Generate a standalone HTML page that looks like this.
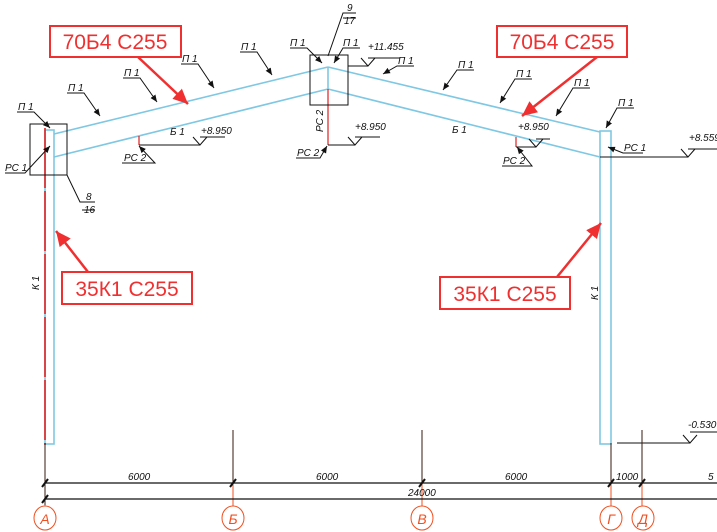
<!DOCTYPE html>
<html><head><meta charset="utf-8"><style>
html,body{margin:0;padding:0;background:#fff;width:717px;height:532px;overflow:hidden}
svg{display:block}
.t{font-family:"Liberation Sans",sans-serif;font-style:italic;font-size:10px;fill:#111}
.r{font-family:"Liberation Sans",sans-serif;font-size:21px;fill:#f03030}
.ax{font-family:"Liberation Sans",sans-serif;font-style:italic;font-size:14px;fill:#f05020}
</style></head><body>
<svg width="717" height="532" viewBox="0 0 717 532" xmlns="http://www.w3.org/2000/svg">
<defs>
<marker id="ah" markerWidth="8" markerHeight="8" refX="7" refY="4" orient="auto" markerUnits="userSpaceOnUse"><path d="M0,1 L7,4 L0,7 z" fill="#111"/></marker>
<marker id="rh" markerWidth="16" markerHeight="14" refX="15" refY="7" orient="auto" markerUnits="userSpaceOnUse"><path d="M0,0 L15,7 L0,14 z" fill="#f03030"/></marker>
</defs>
<g stroke="#7ec8e3" stroke-width="1.6" fill="none">
<!-- left column -->
<rect x="45" y="130" width="9" height="314"/>
<!-- rafters -->
<line x1="54" y1="134" x2="328" y2="67"/>
<line x1="54" y1="157" x2="328" y2="89"/>
<line x1="328" y1="67" x2="600" y2="132"/>
<line x1="328" y1="89" x2="600" y2="157"/>
<line x1="328" y1="67" x2="328" y2="89"/>
<!-- right column -->
<rect x="600" y="131" width="11" height="313"/>
</g>
<line x1="45" y1="128" x2="45" y2="445" stroke="#e02020" stroke-width="1.6" stroke-dasharray="60,3"/>
<line x1="328" y1="89" x2="328" y2="145" stroke="#e02020" stroke-width="1.2"/>
<line x1="139" y1="136" x2="139" y2="145" stroke="#e02020" stroke-width="1.2"/>
<line x1="516" y1="137" x2="516" y2="147" stroke="#e02020" stroke-width="1.2"/>
<g stroke="#111" stroke-width="1" fill="none">
<rect x="30" y="124" width="37" height="51"/>
<rect x="310" y="55" width="38" height="50"/>
<!-- leaders P1 -->
<polyline points="17,112 34,112 50,128" marker-end="url(#ah)"/>
<polyline points="67,93 84,93 100,116" marker-end="url(#ah)"/>
<polyline points="123,78 140,78 157,102" marker-end="url(#ah)"/>
<polyline points="181,64 198,64 214,88" marker-end="url(#ah)"/>
<polyline points="240,52 257,52 272,75" marker-end="url(#ah)"/>
<polyline points="290,48 307,48 322,63" marker-end="url(#ah)"/>
<polyline points="360,48 343,48 334,63" marker-end="url(#ah)"/>
<polyline points="414,66 397,66 383,74" marker-end="url(#ah)"/>
<polyline points="474,70 457,70 443,90" marker-end="url(#ah)"/>
<polyline points="532,79 515,79 500,103" marker-end="url(#ah)"/>
<polyline points="590,88 573,88 556,116" marker-end="url(#ah)"/>
<polyline points="634,108 617,108 606,128" marker-end="url(#ah)"/>
<!-- PC leaders -->
<polyline points="5,173 25,173 50,146" marker-end="url(#ah)"/>
<polyline points="122,163 155,163 139,146" marker-end="url(#ah)"/>
<polyline points="296,158 320,158 327,146" marker-end="url(#ah)"/>
<polyline points="502,166 532,166 517,147" marker-end="url(#ah)"/>
<polyline points="643,153 623,153 608,147" marker-end="url(#ah)"/>
<!-- node number leaders -->
<polyline points="67,175 80,202 95,202"/>
<polyline points="328,56 343,13 356,13"/>
<line x1="82" y1="210" x2="95" y2="210"/>
<line x1="343" y1="18" x2="356" y2="18"/>
<!-- level lines -->
<line x1="139" y1="145" x2="200" y2="145"/>
<polyline points="193,137 200,145 207,137"/><line x1="200" y1="137" x2="225" y2="137"/>
<line x1="328" y1="145" x2="355" y2="145"/>
<polyline points="348,137 355,145 362,137"/><line x1="355" y1="137" x2="380" y2="137"/>
<line x1="516" y1="147" x2="536" y2="147"/>
<polyline points="529,139 536,147 543,139"/><line x1="536" y1="139" x2="550" y2="139"/>
<line x1="348" y1="66" x2="368" y2="66"/>
<polyline points="361,58 368,66 375,58"/><line x1="368" y1="58" x2="400" y2="58"/>
<line x1="600" y1="157" x2="688" y2="157"/>
<polyline points="681,149 688,157 695,149"/><line x1="688" y1="149" x2="717" y2="149"/>
<line x1="617" y1="443" x2="690" y2="443"/>
<polyline points="683,435 690,443 697,435"/><line x1="690" y1="432" x2="717" y2="432"/>
</g>
<!-- axis lines -->
<g stroke="#3a1a10" stroke-width="1">
<line x1="45" y1="443" x2="45" y2="505"/>
<line x1="233" y1="430" x2="233" y2="483"/>
<line x1="422" y1="430" x2="422" y2="483"/>
<line x1="611" y1="443" x2="611" y2="483"/>
<line x1="642" y1="430" x2="642" y2="483"/>
</g>
<g stroke="#f05020" stroke-width="1">
<line x1="233" y1="483" x2="233" y2="508"/>
<line x1="422" y1="483" x2="422" y2="508"/>
<line x1="611" y1="483" x2="611" y2="508"/>
<line x1="642" y1="483" x2="642" y2="508"/>
<line x1="45" y1="505" x2="45" y2="508"/>
</g>
<g stroke="#111" stroke-width="1.2">
<line x1="45" y1="483" x2="717" y2="483"/>
<line x1="45" y1="499" x2="717" y2="499"/>
<g stroke-width="2">
<line x1="42" y1="487" x2="48" y2="479"/><line x1="230" y1="487" x2="236" y2="479"/>
<line x1="419" y1="487" x2="425" y2="479"/><line x1="608" y1="487" x2="614" y2="479"/>
<line x1="639" y1="487" x2="645" y2="479"/><line x1="42" y1="503" x2="48" y2="495"/>
</g></g>
<g fill="#fff" stroke="#f05020" stroke-width="1">
<ellipse cx="45" cy="518" rx="11" ry="12"/><ellipse cx="233" cy="518" rx="11" ry="12"/>
<ellipse cx="422" cy="518" rx="11" ry="12"/><ellipse cx="611" cy="518" rx="11" ry="12"/>
<ellipse cx="643" cy="518" rx="11" ry="12"/>
</g>
<g class="ax" text-anchor="middle">
<text x="45" y="524">А</text><text x="233" y="524">Б</text><text x="422" y="524">В</text>
<text x="611" y="524">Г</text><text x="643" y="524">Д</text>
</g>
<g class="t">
<text x="18" y="110">П 1</text><text x="68" y="91">П 1</text><text x="124" y="76">П 1</text>
<text x="182" y="62">П 1</text><text x="241" y="50">П 1</text><text x="290" y="46">П 1</text>
<text x="343" y="46">П 1</text><text x="398" y="64">П 1</text><text x="458" y="68">П 1</text>
<text x="516" y="77">П 1</text><text x="574" y="86">П 1</text><text x="618" y="106">П 1</text>
<text x="5" y="171">РС 1</text><text x="124" y="161">РС 2</text><text x="297" y="156">РС 2</text>
<text x="503" y="164">РС 2</text><text x="624" y="151">РС 1</text>
<text x="170" y="135">Б 1</text><text x="452" y="133">Б 1</text>
<text x="201" y="134">+8.950</text><text x="355" y="130">+8.950</text><text x="518" y="130">+8.950</text>
<text x="368" y="50">+11.455</text><text x="689" y="141">+8.559</text><text x="688" y="428">-0.530</text>
<text x="86" y="200">8</text><text x="84" y="213">16</text>
<text x="347" y="11">9</text><text x="344" y="24">17</text>
<text x="128" y="480">6000</text><text x="316" y="480">6000</text><text x="505" y="480">6000</text>
<text x="616" y="480">1000</text><text x="708" y="480">5</text><text x="408" y="496">24000</text>
<text transform="translate(39,290) rotate(-90)">К 1</text>
<text transform="translate(598,300) rotate(-90)">К 1</text>
<text transform="translate(323,132) rotate(-90)">РС 2</text>
</g>
<!-- red callouts -->
<g fill="#fff" stroke="#f03030" stroke-width="2">
<rect x="50" y="26" width="131" height="31"/>
<rect x="497" y="26" width="130" height="31"/>
<rect x="62" y="272" width="130" height="32"/>
<rect x="440" y="277" width="130" height="32"/>
</g>
<g class="r" text-anchor="middle">
<text x="115" y="49">70Б4 С255</text><text x="562" y="49">70Б4 С255</text>
<text x="127" y="296">35К1 С255</text><text x="505" y="301">35К1 С255</text>
</g>
<g stroke="#f03030" stroke-width="2.5" fill="none">
<line x1="138" y1="57" x2="188" y2="104" marker-end="url(#rh)"/>
<line x1="597" y1="57" x2="522" y2="116" marker-end="url(#rh)"/>
<line x1="88" y1="272" x2="56" y2="231" marker-end="url(#rh)"/>
<line x1="557" y1="277" x2="601" y2="223" marker-end="url(#rh)"/>
</g>
</svg>
</body></html>
